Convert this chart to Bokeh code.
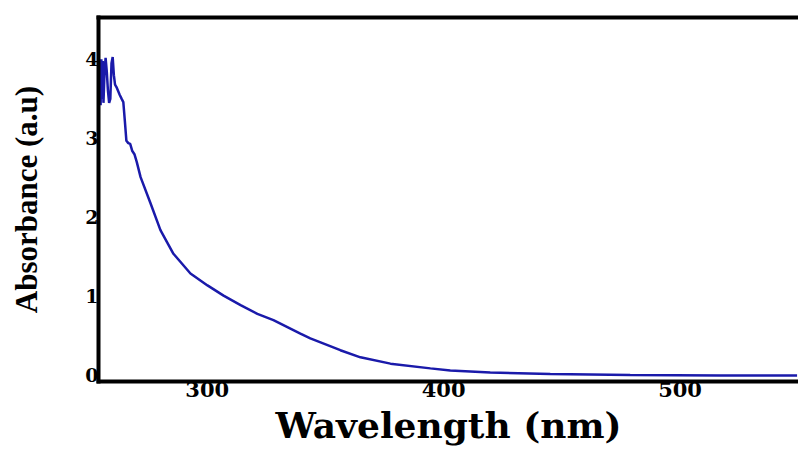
from bokeh.plotting import figure
from bokeh.models import FixedTicker, LinearAxis, Range1d
from bokeh.embed import file_html
from bokeh.resources import INLINE

# UV-Vis absorbance spectrum
wavelength = [254.3, 254.6, 254.9, 255.2, 255.5, 255.8, 256.1, 256.5, 257.0, 257.5,
              258.0, 258.5, 259.0, 259.5, 260.0, 260.5, 261.0, 261.6, 262.3, 263.0,
              263.8, 264.5, 265.2, 265.8, 266.6, 267.4, 268.3, 269.2, 270.2, 271.8,
              276.0, 280.2, 285.7, 292.9, 300.1, 306.9, 314.1, 321.2, 328.0, 339.4,
              343.6, 356.3, 364.8, 377.5, 394.4, 402.8, 419.7, 445.1, 478.9, 517.0,
              549.5]
absorbance = [3.55, 3.95, 3.42, 4.00, 3.50, 3.98, 3.45, 3.80, 4.02, 3.85,
              3.60, 3.45, 3.50, 3.95, 4.03, 3.80, 3.68, 3.65, 3.60, 3.55,
              3.50, 3.46, 3.20, 2.97, 2.94, 2.93, 2.84, 2.80, 2.70, 2.51,
              2.18, 1.84, 1.54, 1.29, 1.14, 1.01, 0.89, 0.78, 0.70, 0.53,
              0.47, 0.32, 0.23, 0.15, 0.09, 0.063, 0.038, 0.019, 0.006, 0.0,
              0.0]
x_ticks = [300, 400, 500]
y_ticks = [0, 1, 2, 3, 4]

p = figure(width=798, height=453, output_backend="svg", toolbar_location=None,
           x_range=Range1d(254.0, 550.1), y_range=Range1d(-0.076, 4.53),
           min_border_left=98, min_border_right=0, min_border_top=17, min_border_bottom=72)
p.line(wavelength, absorbance, line_color="#1a1aaa", line_width=2.5)

p.grid.visible = False
p.outline_line_color = None
p.background_fill_color = "white"
p.border_fill_color = "white"

for ax in (p.xaxis[0], p.yaxis[0]):
    ax.axis_line_width = 4
    ax.axis_line_color = "black"
    ax.axis_line_cap = "square"
    ax.major_tick_line_color = None
    ax.minor_tick_line_color = None
    ax.major_tick_out = 0
    ax.major_tick_in = 0
    ax.minor_tick_out = 0
    ax.minor_tick_in = 0
    ax.major_label_text_font = "DejaVu Serif"
    ax.major_label_text_font_style = "bold"
    ax.major_label_text_color = "black"
    ax.axis_label_text_font_style = "bold"
    ax.axis_label_text_color = "black"

xa = p.xaxis[0]
xa.ticker = FixedTicker(ticks=x_ticks)
xa.major_label_text_font_size = "21px"
xa.major_label_standoff = 0
xa.axis_label = "Wavelength (nm)"
xa.axis_label_text_font = "DejaVu Serif"
xa.axis_label_text_font_size = "36px"
xa.axis_label_standoff = 4

ya = p.yaxis[0]
ya.ticker = FixedTicker(ticks=y_ticks)
ya.major_label_text_font_size = "19px"
ya.major_label_standoff = 0
ya.axis_label = "Absorbance (a.u)"
ya.axis_label_text_font = "Liberation Serif"
ya.axis_label_text_font_size = "31px"
ya.axis_label_standoff = 38

top = LinearAxis(ticker=FixedTicker(ticks=[]), axis_line_width=4, axis_line_color="black",
                 axis_line_cap="square",
                 major_tick_out=0, major_tick_in=0, minor_tick_out=0, minor_tick_in=0,
                 major_label_text_font_size="0px")
p.add_layout(top, "above")

open("out.html", "w").write(file_html(p, INLINE))
